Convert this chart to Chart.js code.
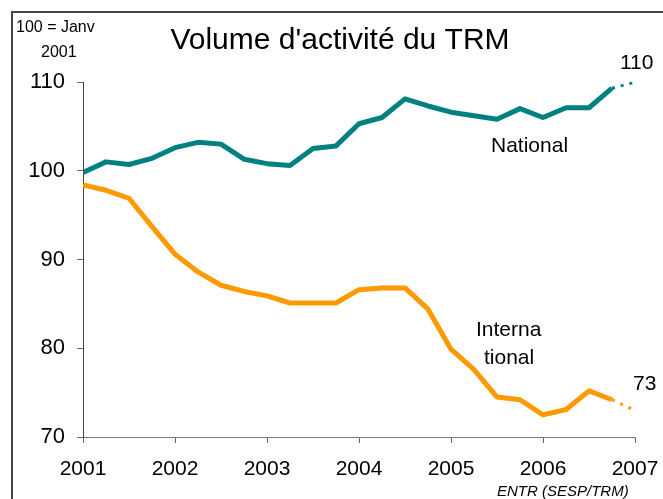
<!DOCTYPE html>
<html>
<head>
<meta charset="utf-8">
<script src="https://cdn.jsdelivr.net/npm/chart.js@4.4.0/dist/chart.umd.min.js"></script>
<style>
    html, body { margin: 0; padding: 0; background: #fff; }
    #wrap { position: relative; width: 663px; height: 499px; overflow: hidden; }
    #frame { position: absolute; left: 11px; top: 11px; width: 700px; height: 600px; border: 2px solid #444; }
    #chart { position: absolute; left: 0; top: 0; }
</style>
</head>
<body>
<div id="wrap">
    <div id="frame"></div>
    <canvas id="chart" width="663" height="499"></canvas>
</div>
<script>
// Quarters (x positions), last point = projection Jan 2007
const quarters = [
    2001, 2001.25, 2001.5, 2001.75,
    2002, 2002.25, 2002.5, 2002.75,
    2003, 2003.25, 2003.5, 2003.75,
    2004, 2004.25, 2004.5, 2004.75,
    2005, 2005.25, 2005.5, 2005.75,
    2006, 2006.25, 2006.5, 2006.75,
    2007
];

const nationalValues = [
    99.8, 101.0, 100.7, 101.4, 102.6, 103.2, 103.0, 101.3,
    100.8, 100.6, 102.5, 102.8, 105.3, 106.0, 108.1, 107.3,
    106.6, 106.2, 105.8, 107.0, 106.0, 107.1, 107.1, 109.3,
    110.0
];

const internationalValues = [
    98.4, 97.8, 96.9, 93.7, 90.6, 88.6, 87.1, 86.4,
    85.9, 85.1, 85.1, 85.1, 86.6, 86.8, 86.8, 84.4,
    79.9, 77.6, 74.5, 74.2, 72.5, 73.1, 75.2, 74.2,
    73.0
];

const yearTicks = ['2001', '2002', '2003', '2004', '2005', '2006', '2007'];
const yTicks = [70, 80, 90, 100, 110];

const FONT = "'Liberation Sans', Arial, sans-serif";

function toPoints(values) {
    return values.map((v, i) => ({ x: quarters[i], y: v }));
}

// last segment is a projection -> dashed
const dashedLast = {
    borderDash: ctx => ctx.p1DataIndex === quarters.length - 1 ? [3, 6] : undefined,
    borderWidth: ctx => ctx.p1DataIndex === quarters.length - 1 ? 3 : undefined
};

// Texts drawn on the canvas
const textPlugin = {
    id: 'texts',
    afterDraw(chart) {
        const c = chart.ctx;
        c.save();
        c.fillStyle = '#000';
        c.textBaseline = 'middle';

        c.font = '30px ' + FONT;
        c.textAlign = 'center';
        c.fillText("Volume d'activité du TRM", 340, 41);

        c.font = '16px ' + FONT;
        c.textAlign = 'left';
        c.fillText('100 = Janv', 16, 28);
        c.fillText('2001', 41, 53);

        c.font = '21px ' + FONT;
        c.fillText('National', 491, 146);
        c.fillText('Interna', 476, 330);
        c.fillText('tional', 484, 358);
        c.fillText('110', 620, 63);
        c.fillText('73', 633, 384);

        c.font = 'italic 15px ' + FONT;
        c.fillText('ENTR (SESP/TRM)', 497, 492);
        c.restore();
    }
};

const chart = new Chart(document.getElementById('chart'), {
    type: 'line',
    data: {
        datasets: [
            {
                label: 'National',
                data: toPoints(nationalValues),
                borderColor: '#008080',
                borderWidth: 5,
                pointRadius: 0,
                tension: 0,
                borderJoinStyle: 'round',
                segment: dashedLast
            },
            {
                label: 'International',
                data: toPoints(internationalValues),
                borderColor: '#FF9900',
                borderWidth: 5,
                pointRadius: 0,
                tension: 0,
                borderJoinStyle: 'round',
                segment: dashedLast
            }
        ]
    },
    options: {
        responsive: false,
        animation: false,
        events: [],
        layout: { padding: { left: 0, right: 28, top: 82, bottom: 0 } },
        plugins: {
            legend: { display: false },
            title: { display: false },
            tooltip: { enabled: false }
        },
        scales: {
            x: {
                type: 'linear',
                min: 2001,
                max: 2007,
                afterFit: scale => {
                    scale.height = 62;
                    scale.paddingLeft = 0;
                    scale.paddingRight = 0;
                },
                afterBuildTicks: scale => {
                    scale.ticks = yearTicks.map(t => ({ value: Number(t) }));
                },
                ticks: {
                    color: '#000',
                    font: { family: FONT, size: 21 },
                    padding: 14,
                    maxRotation: 0,
                    callback: v => yearTicks.find(t => Number(t) === v) || ''
                },
                grid: { drawOnChartArea: false, color: '#666', tickLength: 6 },
                border: { color: '#777', width: 1 }
            },
            y: {
                min: 70,
                max: 110,
                afterFit: scale => {
                    scale.width = 83;
                    scale.paddingTop = 0;
                    scale.paddingBottom = 0;
                },
                afterBuildTicks: scale => {
                    scale.ticks = yTicks.map(v => ({ value: v }));
                },
                ticks: {
                    color: '#000',
                    font: { family: FONT, size: 22 },
                    padding: 12
                },
                grid: { drawOnChartArea: false, color: '#666', tickLength: 6 },
                border: { color: '#444', width: 1 }
            }
        }
    },
    plugins: [textPlugin]
});
</script>
</body>
</html>
